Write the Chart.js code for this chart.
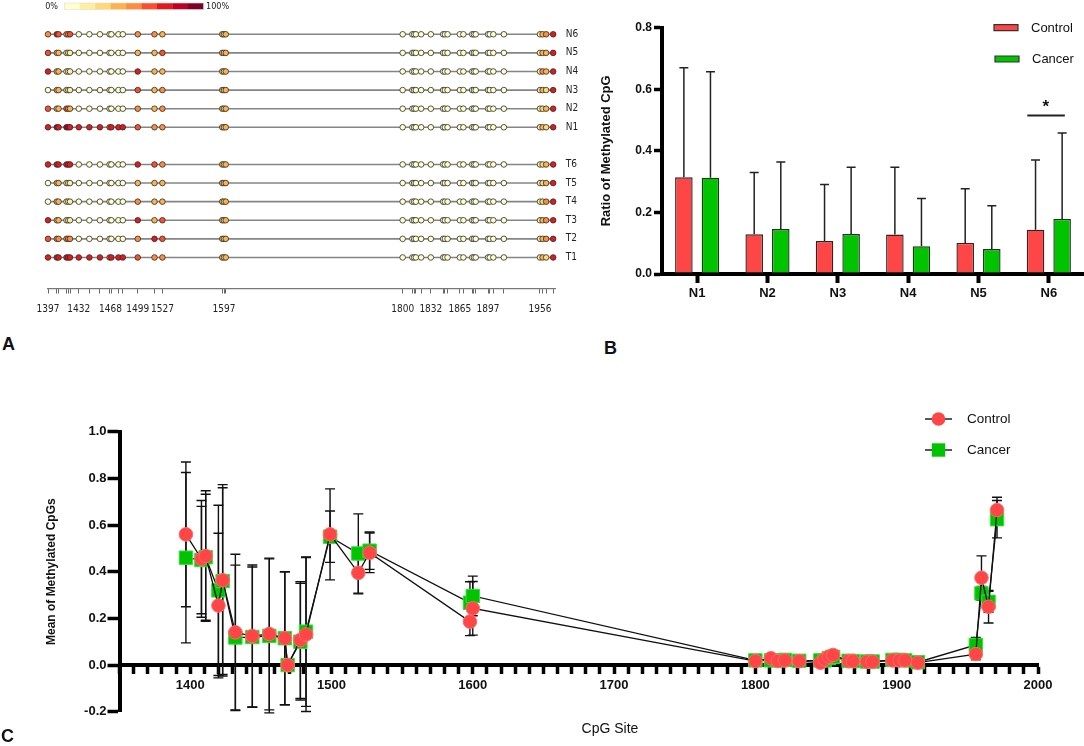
<!DOCTYPE html>
<html>
<head>
<meta charset="utf-8">
<script src="https://cdn.jsdelivr.net/npm/chart.js@4.4.1/dist/chart.umd.min.js"></script>
<style>
  html, body { margin: 0; padding: 0; background: #fff; }
  #fig { position: relative; width: 1084px; height: 746px; overflow: hidden;
         font-family: "Liberation Sans", Arial, sans-serif; color: #111; }
  #fig canvas { position: absolute; }
  .panel-letter { position: absolute; font-weight: bold; font-size: 18px; line-height: 18px; }
  .axis-title { position: absolute; font-size: 14px; line-height: 16px; text-align: center; }
</style>
</head>
<body>
<div id="fig">
  <canvas id="chart-a" width="600" height="330" style="left:0;top:0"></canvas>
  <canvas id="chart-b" width="494" height="330" style="left:590px;top:0"></canvas>
  <canvas id="chart-c" width="1084" height="366" style="left:0;top:380px"></canvas>
  <div class="panel-letter" style="left:2px;top:335px">A</div>
  <div class="panel-letter" style="left:604px;top:339px">B</div>
  <div class="panel-letter" style="left:1px;top:727px">C</div>
  <div class="axis-title" style="left:560px;top:720px;width:100px">CpG Site</div>
</div>

<script>
// Figura de metilación: A lollipop por muestra, B barras por región, C media por sitio CpG.

const FONT      = '"Liberation Sans", Arial, sans-serif';
const FONT_NARR = '"Liberation Sans Narrow", "DejaVu Sans Condensed", "Liberation Sans", sans-serif';

// ── Panel A: datos ──────────────────────────────────────────────────────────
const A_SITES = [1397, 1407, 1409, 1418, 1420, 1422, 1432, 1444, 1456, 1467, 1469, 1477, 1482, 1499, 1518, 1527,
                 1595, 1597, 1599,
                 1800, 1811, 1813, 1815, 1821, 1832, 1846, 1848, 1851, 1865, 1869, 1879, 1881, 1883, 1897, 1899, 1903, 1915,
                 1956, 1959, 1963, 1971];
const A_TICK_LABELS = [1397, 1432, 1468, 1499, 1527, 1597, 1800, 1832, 1865, 1897, 1956];
const A_ROWS    = ['N6', 'N5', 'N4', 'N3', 'N2', 'N1', 'T6', 'T5', 'T4', 'T3', 'T2', 'T1'];
const A_ROW_POS = [0, 1, 2, 3, 4, 5, 7, 8, 9, 10, 11, 12];
const A_PALETTE = ['#FFFFCC', '#FFEDA0', '#FED976', '#FEB24C', '#FD8D3C', '#FC4E2A', '#E31A1C', '#BD0026', '#800026'];

// % metilado por sitio (mismo orden que A_SITES)
const A_N6 = [50,72,62,50,50,62,5,5,5,15,5,5,5,50,50,40, 40,25,40, 5,5,5,5,5,5,5,5,5,5,5,5,5,5,5,5,5,5, 15,40,50,72];
const A_N5 = [62,40,40,15,15,15,5,5,5,15,5,5,5,40,40,62, 40,25,40, 5,5,5,5,5,5,5,5,5,5,5,5,5,5,5,5,5,5, 15,40,40,72];
const A_N4 = [72,40,40,15,15,15,5,5,5,15,5,5,5,72,40,40, 40,25,40, 5,5,5,5,5,5,5,5,5,5,5,5,5,5,5,5,5,5, 15,50,40,72];
const A_N3 = [5,40,40,15,15,15,5,5,5,15,5,5,5,62,40,50, 40,25,40, 5,5,5,5,5,5,5,5,5,5,5,5,5,5,5,5,5,5, 15,40,25,72];
const A_N2 = [62,40,40,62,50,40,5,5,5,15,5,5,5,50,40,50, 40,25,40, 5,5,5,5,5,5,5,5,5,5,5,5,5,5,5,5,5,5, 15,25,40,72];
const A_N1 = [72,85,72,85,85,72,72,72,72,62,72,72,72,62,50,50, 40,25,40, 5,5,5,5,5,5,5,5,5,5,5,5,5,5,5,5,5,5, 15,40,25,72];
const A_T6 = [72,72,72,72,72,72,5,5,5,15,5,5,5,72,62,50, 40,25,40, 5,5,5,5,5,5,5,5,5,5,5,5,5,5,5,5,5,5, 15,25,40,72];
const A_T5 = [5,40,40,15,15,15,5,5,5,15,5,5,5,40,40,40, 40,25,40, 5,5,5,5,5,5,5,5,5,5,5,5,5,5,5,5,5,5, 15,25,40,72];
const A_T4 = [5,40,40,15,15,15,5,5,5,15,5,5,5,50,40,40, 40,25,40, 5,5,5,5,5,5,5,5,5,5,5,5,5,5,5,5,5,5, 15,25,50,72];
const A_T3 = [72,40,40,15,15,15,5,5,5,15,5,5,5,72,40,62, 40,25,40, 5,5,5,5,5,5,5,5,5,5,5,5,5,5,5,5,5,5, 15,40,50,72];
const A_T2 = [62,50,50,50,50,50,5,5,5,15,5,5,5,50,72,62, 40,25,40, 5,5,5,5,5,5,5,5,5,5,5,5,5,5,5,5,5,5, 15,40,50,72];
const A_T1 = [72,72,72,72,72,72,72,72,72,62,72,72,72,62,50,50, 40,25,40, 5,5,5,5,5,5,5,5,5,5,5,5,5,5,5,5,5,5, 15,40,25,72];
const A_METH = [A_N6, A_N5, A_N4, A_N3, A_N2, A_N1, A_T6, A_T5, A_T4, A_T3, A_T2, A_T1];

// ── Panel B: datos ──────────────────────────────────────────────────────────
const B_CATS       = ['N1', 'N2', 'N3', 'N4', 'N5', 'N6'];
const B_CONTROL    = [0.314, 0.129, 0.107, 0.128, 0.101, 0.144];
const B_CONTROL_SD = [0.356, 0.201, 0.184, 0.219, 0.176, 0.226];
const B_CANCER     = [0.313, 0.146, 0.130, 0.090, 0.081, 0.179];
const B_CANCER_SD  = [0.344, 0.218, 0.217, 0.155, 0.141, 0.279];

// ── Panel C: datos ──────────────────────────────────────────────────────────
const C_SITES = [1397, 1408, 1411, 1420, 1423, 1432, 1444, 1456, 1467, 1469, 1478, 1482, 1499, 1519, 1527, 1598, 1600,
                 1800, 1811, 1816, 1821, 1831, 1846, 1849, 1852, 1855, 1866, 1869, 1879, 1883, 1897, 1902, 1906, 1915,
                 1956, 1960, 1965, 1971];
const C_CONTROL    = [0.56, 0.455, 0.467, 0.255, 0.363, 0.14, 0.124, 0.133, 0.115, 0.0, 0.107, 0.131, 0.56, 0.395, 0.481, 0.186, 0.243,
                      0.017, 0.029, 0.017, 0.02, 0.017, 0.01, 0.025, 0.036, 0.043, 0.017, 0.017, 0.014, 0.014, 0.02, 0.02, 0.02, 0.01,
                      0.047, 0.374, 0.25, 0.664];
const C_CONTROL_SD = [0.31, 0.25, 0.28, 0.31, 0.41, 0.335, 0.305, 0.325, 0.285, 0.0, 0.25, 0.33, 0.195, 0.09, 0.085, 0.06, 0.115,
                      0.012, 0.012, 0.01, 0.01, 0.01, 0.008, 0.012, 0.012, 0.012, 0.01, 0.01, 0.008, 0.008, 0.01, 0.01, 0.01, 0.006,
                      0.025, 0.094, 0.07, 0.055];
const C_CANCER     = [0.46, 0.45, 0.462, 0.32, 0.36, 0.118, 0.12, 0.125, 0.115, 0.0, 0.1, 0.143, 0.55, 0.478, 0.49, 0.267, 0.296,
                      0.02, 0.02, 0.02, 0.022, 0.018, 0.02, 0.02, 0.03, 0.035, 0.018, 0.017, 0.015, 0.015, 0.022, 0.022, 0.02, 0.012,
                      0.086, 0.307, 0.271, 0.625];
const C_CANCER_SD  = [0.365, 0.23, 0.27, 0.365, 0.40, 0.31, 0.3, 0.33, 0.285, 0.0, 0.25, 0.32, 0.11, 0.17, 0.08, 0.09, 0.085,
                      0.012, 0.012, 0.01, 0.01, 0.01, 0.01, 0.01, 0.012, 0.012, 0.01, 0.01, 0.008, 0.008, 0.01, 0.01, 0.01, 0.006,
                      0.032, 0.03, 0.045, 0.08];

const RED   = '#FF4646';
const GREEN = '#00C400';

Chart.defaults.animation = false;
Chart.defaults.events = [];
Chart.defaults.plugins.legend.display = false;
Chart.defaults.plugins.tooltip.enabled = false;
Chart.defaults.color = '#111';

// 1 decimal sin "-0.0"
function _fmt1(v) {
  return (Math.abs(v) < 1e-9 ? 0 : v).toFixed(1);
}

// ── Panel A ─────────────────────────────────────────────────────────────────

function _methColor(pct) {
  return A_PALETTE[Math.min(8, Math.floor(pct / 100 * 9))];
}

const colorKey = {
  id: 'colorKey',
  afterDraw(chart) {
    const ctx = chart.ctx;
    const x0 = 64.3, w = 139 / A_PALETTE.length;
    ctx.save();
    A_PALETTE.forEach((c, i) => {
      ctx.fillStyle = c;
      ctx.fillRect(x0 + i * w, 3, w + 0.3, 6.5);
    });
    ctx.strokeStyle = '#ddd'; ctx.lineWidth = 0.6;
    ctx.strokeRect(x0, 3, 139, 6.5);
    ctx.fillStyle = '#222';
    ctx.font = '9px ' + FONT_NARR;
    ctx.textBaseline = 'middle';
    ctx.textAlign = 'right'; ctx.fillText('0%', 58, 6.5);
    ctx.textAlign = 'left';  ctx.fillText('100%', 206, 6.5);
    ctx.restore();
  }
};

const aDatasets = [];
A_ROWS.forEach((name, r) => {
  aDatasets.push({
    label: name, order: 0, clip: false, showLine: false,
    data: A_SITES.map(s => ({ x: s, y: A_ROW_POS[r] })),
    pointRadius: 2.8, pointBorderWidth: 0.8, pointBorderColor: '#2b2b2b',
    pointBackgroundColor: A_METH[r].map(_methColor)
  });
  aDatasets.push({
    label: name + ' eje', order: 1, clip: false, showLine: true,
    data: [{ x: A_SITES[0], y: A_ROW_POS[r] }, { x: A_SITES[A_SITES.length - 1], y: A_ROW_POS[r] }],
    borderColor: '#858585', borderWidth: 1.6, pointRadius: 0
  });
});

const aTicks = Array.from(new Set(A_SITES.concat(A_TICK_LABELS))).sort((a, b) => a - b);

new Chart(document.getElementById('chart-a'), {
  type: 'scatter',
  data: { datasets: aDatasets },
  options: {
    responsive: false,
    layout: { padding: { left: 48, top: 15.7, right: 0, bottom: 0 } },
    scales: {
      x: {
        type: 'linear', position: 'bottom', min: 1397, max: 1974,
        afterBuildTicks: s => { s.ticks = aTicks.map(v => ({ value: v })); },
        afterFit: s => { s.height = 41.5; },
        grid: {
          drawOnChartArea: false, tickLength: 5, tickWidth: 1,
          tickColor: c => (A_SITES.includes(c.tick && c.tick.value) ? '#666' : 'rgba(0,0,0,0)')
        },
        border: { display: true, color: '#777', width: 1.2 },
        ticks: {
          autoSkip: false, maxRotation: 0, padding: 10, color: '#222',
          font: { family: FONT_NARR, size: 10 },
          callback: v => (A_TICK_LABELS.includes(v) ? String(v) : '')
        }
      },
      y: {
        type: 'linear', position: 'right', reverse: true, min: -1, max: 13.67,
        afterBuildTicks: s => { s.ticks = A_ROW_POS.map(v => ({ value: v })); },
        afterFit: s => { s.width = 44.2; },
        grid: { display: false },
        border: { display: false },
        ticks: {
          padding: 2, color: '#222',
          font: { family: FONT_NARR, size: 10 },
          callback: v => A_ROWS[A_ROW_POS.indexOf(v)]
        }
      }
    }
  },
  plugins: [colorKey]
});

// ── Panel B ─────────────────────────────────────────────────────────────────

const barExtras = {
  id: 'barExtras',
  afterDatasetsDraw(chart) {
    const ctx = chart.ctx;
    const y = chart.scales.y, x = chart.scales.x;
    const sds = [B_CONTROL_SD, B_CANCER_SD];
    ctx.save();
    ctx.strokeStyle = '#222'; ctx.lineWidth = 1.5;
    chart.data.datasets.forEach((ds, di) => {
      chart.getDatasetMeta(di).data.forEach((bar, i) => {
        const top = y.getPixelForValue(ds.data[i] + sds[di][i]);
        ctx.beginPath();
        ctx.moveTo(bar.x, bar.y); ctx.lineTo(bar.x, top);
        ctx.moveTo(bar.x - 4.5, top); ctx.lineTo(bar.x + 4.5, top);
        ctx.stroke();
      });
    });

    // N6: diferencia significativa
    const cx = x.getPixelForValue(5);
    const ys = y.getPixelForValue(0.515);
    ctx.lineWidth = 2;
    ctx.beginPath(); ctx.moveTo(cx - 21.5, ys); ctx.lineTo(cx + 16, ys); ctx.stroke();
    ctx.fillStyle = '#111';
    ctx.font = 'bold 17px ' + FONT;
    ctx.textAlign = 'center'; ctx.textBaseline = 'middle';
    ctx.fillText('*', cx - 3, y.getPixelForValue(0.54));

    // leyenda
    ctx.font = '13px ' + FONT;
    ctx.textAlign = 'left';
    [[RED, 'Control', 404, 27.7], [GREEN, 'Cancer', 405, 59]].forEach(([c, t, lx, ly]) => {
      ctx.fillStyle = c; ctx.strokeStyle = '#333'; ctx.lineWidth = 1.2;
      ctx.beginPath(); ctx.rect(lx, ly - 3, 24, 6); ctx.fill(); ctx.stroke();
      ctx.fillStyle = '#111';
      ctx.fillText(t, lx + 37, ly + 0.5);
    });
    ctx.restore();
  }
};

new Chart(document.getElementById('chart-b'), {
  type: 'bar',
  data: {
    labels: B_CATS,
    datasets: [
      { label: 'Control', data: B_CONTROL, backgroundColor: RED,   borderColor: '#332222', borderWidth: 1.4, borderSkipped: false },
      { label: 'Cancer',  data: B_CANCER,  backgroundColor: GREEN, borderColor: '#223322', borderWidth: 1.4, borderSkipped: false }
    ]
  },
  options: {
    responsive: false,
    categoryPercentage: 0.756,
    barPercentage: 0.66,
    layout: { padding: { left: 0, top: 27.7, right: 0, bottom: 0 } },
    scales: {
      x: {
        afterFit: s => { s.height = 56; },
        grid: { drawOnChartArea: false, offset: false, tickLength: 9, tickWidth: 4, tickColor: '#000' },
        border: { color: '#000', width: 4 },
        ticks: { padding: 3, color: '#111', font: { family: FONT, size: 13, weight: 'bold' } }
      },
      y: {
        min: 0, max: 0.8,
        afterFit: s => { s.width = 72; },
        grid: { drawOnChartArea: false, tickLength: 8, tickWidth: 3.5, tickColor: '#000' },
        border: { color: '#000', width: 4 },
        ticks: {
          stepSize: 0.2, padding: 2, color: '#111',
          font: { family: FONT, size: 12, weight: 'bold' },
          callback: v => _fmt1(v)
        },
        title: {
          display: true, text: 'Ratio of Methylated CpG', color: '#111',
          font: { family: FONT, size: 13, weight: 'bold' }, padding: { top: 8.2, bottom: 0 }
        }
      }
    }
  },
  plugins: [barExtras]
});

// ── Panel C ─────────────────────────────────────────────────────────────────

const lineExtras = {
  id: 'lineExtras',
  beforeDatasetsDraw(chart) {
    const ctx = chart.ctx, y = chart.scales.y;
    const sds = [C_CONTROL_SD, C_CANCER_SD];
    ctx.save();
    ctx.strokeStyle = '#111'; ctx.lineWidth = 1.4;
    chart.data.datasets.forEach((ds, di) => {
      chart.getDatasetMeta(di).data.forEach((pt, i) => {
        const sd = sds[di][i];
        if (!sd) return;
        const v = ds.data[i].y;
        const top = y.getPixelForValue(v + sd), bot = y.getPixelForValue(v - sd);
        ctx.beginPath();
        ctx.moveTo(pt.x, top); ctx.lineTo(pt.x, bot);
        ctx.moveTo(pt.x - 5, top); ctx.lineTo(pt.x + 5, top);
        ctx.moveTo(pt.x - 5, bot); ctx.lineTo(pt.x + 5, bot);
        ctx.stroke();
      });
    });
    ctx.restore();
  },
  afterDraw(chart) {
    const ctx = chart.ctx;
    ctx.save();
    ctx.font = '13.5px ' + FONT;
    ctx.textBaseline = 'middle'; ctx.textAlign = 'left';
    chart.data.datasets.forEach((ds, i) => {
      const ly = 39 + i * 31;
      ctx.strokeStyle = '#111'; ctx.lineWidth = 1.4;
      ctx.beginPath(); ctx.moveTo(925, ly); ctx.lineTo(952, ly); ctx.stroke();
      ctx.fillStyle = ds.pointBackgroundColor;
      ctx.beginPath();
      if (ds.pointStyle === 'rect') ctx.rect(938.5 - 6.7, ly - 6.7, 13.4, 13.4);
      else ctx.arc(938.5, ly, 6.8, 0, Math.PI * 2);
      ctx.fill();
      ctx.fillStyle = '#111';
      ctx.fillText(ds.label, 967, ly + 0.5);
    });
    ctx.restore();
  }
};

new Chart(document.getElementById('chart-c'), {
  type: 'scatter',
  data: {
    datasets: [
      {
        label: 'Control', showLine: true,
        data: C_SITES.map((s, i) => ({ x: s, y: C_CONTROL[i] })),
        borderColor: '#111', borderWidth: 1.3,
        pointStyle: 'circle', pointRadius: 6.8,
        pointBackgroundColor: RED, pointBorderColor: '#FF6A6A', pointBorderWidth: 1
      },
      {
        label: 'Cancer', showLine: true,
        data: C_SITES.map((s, i) => ({ x: s, y: C_CANCER[i] })),
        borderColor: '#111', borderWidth: 1.3,
        pointStyle: 'rect', pointRadius: 9.5,
        pointBackgroundColor: GREEN, pointBorderColor: '#3EDC3E', pointBorderWidth: 1
      }
    ]
  },
  options: {
    responsive: false,
    layout: { padding: { left: 0, top: 51.7, right: 46, bottom: 34.3 } },
    scales: {
      x: {
        type: 'linear', min: 1350, max: 2000, position: { y: 0 },
        grid: { drawOnChartArea: false, tickLength: 7, tickWidth: 3.5, tickColor: '#000' },
        border: { color: '#000', width: 4 },
        ticks: {
          stepSize: 10, maxTicksLimit: 100, autoSkip: false, maxRotation: 0, padding: 6, color: '#111',
          font: { family: FONT, size: 13, weight: 'bold' },
          callback: v => (v % 100 === 0 ? String(v) : '')
        }
      },
      y: {
        min: -0.2, max: 1.0,
        afterFit: s => { s.width = 119.5; },
        grid: { drawOnChartArea: false, tickLength: 12, tickWidth: 3.5, tickColor: '#000' },
        border: { color: '#000', width: 4 },
        ticks: {
          stepSize: 0.2, padding: 1, color: '#111',
          font: { family: FONT, size: 13, weight: 'bold' },
          callback: v => _fmt1(v)
        },
        title: {
          display: true, text: 'Mean of Methylated CpGs', color: '#111',
          font: { family: FONT, size: 12, weight: 'bold' }, padding: { top: 44.5, bottom: 0 }
        }
      }
    }
  },
  plugins: [lineExtras]
});
</script>
</body>
</html>
